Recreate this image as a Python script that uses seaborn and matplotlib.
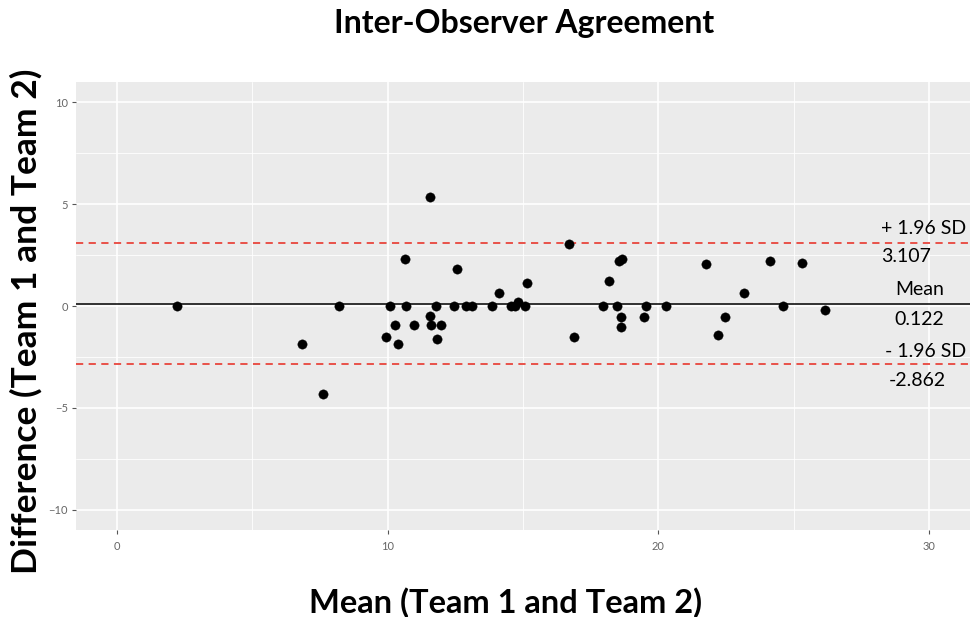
import matplotlib
matplotlib.use("Agg")
import matplotlib.pyplot as plt
import seaborn as sns
import pandas as pd
import numpy as np

means = [2.24, 6.86, 7.63, 8.22, 9.95, 10.1, 10.26, 10.39, 10.64, 10.68, 10.98,
         11.56, 11.56, 11.61, 11.8, 11.82, 11.96, 12.44, 12.57, 12.88, 13.1,
         13.85, 14.1, 14.55, 14.72, 14.82, 15.06, 15.14, 16.7, 16.88, 17.95,
         18.19, 18.46, 18.56, 18.66, 18.63, 18.63, 19.48, 19.54, 20.28, 21.76,
         22.2, 22.45, 23.16, 24.1, 24.6, 25.29, 26.14]
diffs = [0.0, -1.86, -4.32, 0.0, -1.54, 0.0, -0.92, -1.86, 2.31, 0.0, -0.92,
         5.36, -0.47, -0.92, 0.0, -1.6, -0.92, 0.0, 1.84, 0.0, 0.0,
         0.0, 0.66, 0.0, 0.0, 0.18, 0.0, 1.13, 3.06, -1.54, 0.0,
         1.25, 0.0, 2.22, 2.31, -0.52, -1.05, -0.53, 0.0, 0.0, 2.04,
         -1.42, -0.55, 0.62, 2.2, 0.0, 2.09, -0.21]

mean_diff = 0.122
upper_loa = 3.107
lower_loa = -2.862
x_ticks = [0, 10, 20, 30]
y_ticks = [-10, -5, 0, 5, 10]

df = pd.DataFrame({"mean": means, "diff": diffs})

sns.set_theme(style="darkgrid")
plt.rcParams["font.family"] = ["Lato", "DejaVu Sans"]

fig = plt.figure(figsize=(9.77, 6.17), dpi=100)
ax = fig.add_axes([0.0778, 0.141, 0.915, 0.726])
ax.set_facecolor("#EBEBEB")

sns.scatterplot(data=df, x="mean", y="diff", ax=ax, color="black", s=45,
                edgecolor="black", linewidth=0.3, zorder=5)

ax.axhline(mean_diff, color="black", lw=1.1, zorder=3)
ax.axhline(upper_loa, color="#E8453C", lw=1.3, ls=(0, (4, 3)), zorder=3)
ax.axhline(lower_loa, color="#E8453C", lw=1.3, ls=(0, (4, 3)), zorder=3)

ax.set_xlim(-1.5, 31.5)
ax.set_ylim(-11, 11)
ax.set_xticks(x_ticks)
ax.set_yticks(y_ticks)
ax.set_xticks([5, 15, 25], minor=True)
ax.set_yticks([-7.5, -2.5, 2.5, 7.5], minor=True)
ax.grid(which="major", color="white", lw=1.2)
ax.grid(which="minor", color="white", lw=0.6)
for s in ax.spines.values():
    s.set_visible(False)
ax.tick_params(axis="both", which="major", length=3, width=0.8, color="#555555",
               labelsize=8, labelcolor="#666666", bottom=True, left=True)
ax.tick_params(axis="x", which="major", pad=5)
ax.tick_params(axis="y", which="major", pad=3)
ax.tick_params(axis="both", which="minor", length=0)

tfs = 14
ax.text(31.35, 3.79, "+ 1.96 SD", ha="right", va="center", fontsize=tfs, color="black")
ax.text(29.15, 2.43, f"{upper_loa:.3f}", ha="center", va="center", fontsize=tfs, color="black")
ax.text(29.63, 0.83, "Mean", ha="center", va="center", fontsize=tfs, color="black")
ax.text(29.63, -0.68, f"{mean_diff:.3f}", ha="center", va="center", fontsize=tfs, color="black")
ax.text(31.35, -2.23, "- 1.96 SD", ha="right", va="center", fontsize=tfs, color="black")
ax.text(29.55, -3.64, f"{lower_loa:.3f}", ha="center", va="center", fontsize=tfs, color="black")

ax.set_xlabel("Mean (Team 1 and Team 2)", fontsize=23.5, fontweight="bold", color="black")
ax.set_ylabel("Difference (Team 1 and Team 2)", fontsize=25.5, fontweight="bold", color="black")
ax.xaxis.set_label_coords(0.48, -0.128)
ax.yaxis.set_label_coords(-0.037, 0.4665)
fig.text(524 / 977, 1 - 23 / 617, "Inter-Observer Agreement", fontsize=23,
         fontweight="bold", ha="center", va="center", color="black")

fig.savefig("out.png", dpi=100)
